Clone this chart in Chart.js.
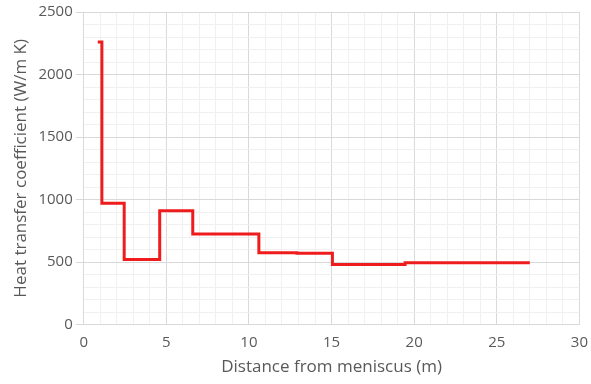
<!DOCTYPE html>
<html>
<head>
<meta charset="utf-8">
<script src="https://cdn.jsdelivr.net/npm/chart.js@4"></script>
<style>
  html, body { margin: 0; padding: 0; background: #fff; }
  #wrap { width: 591px; height: 384px; }
</style>
</head>
<body>
<div id="wrap"><canvas id="chart"></canvas></div>
<script>
// step start points (x in m, y in W/m K)
const distance = [0.85, 1.1, 2.45, 4.6, 6.6, 10.6, 12.9, 15.05, 19.45, 27.0];
const htc = [2260, 970, 520, 910, 725, 575, 570, 480, 495, 495];
const xTitle = 'Distance from meniscus (m)';
const yTitle = 'Heat transfer coefficient (W/m K)';

const points = distance.map((d, i) => ({ x: d, y: htc[i] }));

const labelColor = '#595959';
const fontFam = '"Open Sans", sans-serif';
const major = '#d9d9d9';
const minor = '#f0f0f0';

const graph = document.querySelector('#chart');
new Chart(graph, {
    type: 'line',
    data: {
        datasets: [{
            data: points,
            borderColor: '#ee1c1c',
            borderWidth: 3,
            pointRadius: 0,
            stepped: 'before',
            fill: false
        }]
    },
    options: {
        responsive: true,
        maintainAspectRatio: false,
        animation: false,
        layout: { padding: { top: 12, right: 8, left: 7, bottom: 3 } },
        plugins: {
            legend: { display: false },
            tooltip: { enabled: false }
        },
        scales: {
            x: {
                type: 'linear',
                min: 0,
                max: 30,
                ticks: {
                    stepSize: 1,
                    autoSkip: false,
                    maxRotation: 0,
                    color: labelColor,
                    font: { family: fontFam, size: 15 },
                    callback: (v) => (v % 5 === 0 ? v : '')
                },
                grid: {
                    color: (ctx) => (ctx.tick && ctx.tick.value % 5 === 0 ? major : minor),
                    tickColor: 'transparent',
                    tickLength: 6
                },
                border: { color: major },
                title: {
                    display: true,
                    text: xTitle,
                    color: labelColor,
                    font: { family: fontFam, size: 17 },
                    padding: { top: 2 }
                }
            },
            y: {
                min: 0,
                max: 2500,
                ticks: {
                    stepSize: 100,
                    autoSkip: false,
                    color: labelColor,
                    font: { family: fontFam, size: 15 },
                    callback: (v) => (v % 500 === 0 ? v : '')
                },
                grid: {
                    color: (ctx) => (ctx.tick && ctx.tick.value % 500 === 0 ? major : minor),
                    tickColor: (ctx) => (ctx.tick && ctx.tick.value % 500 === 0 ? major : 'transparent'),
                    tickLength: 8
                },
                border: { color: major },
                title: {
                    display: true,
                    text: yTitle,
                    color: labelColor,
                    font: { family: fontFam, size: 17 },
                    padding: { bottom: 4 }
                }
            }
        }
    }
});
</script>
</body>
</html>
